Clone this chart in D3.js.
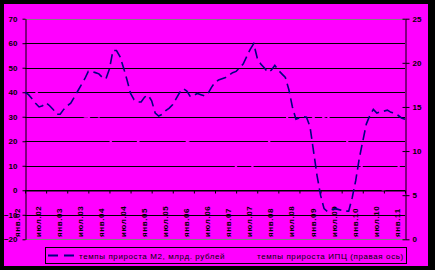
<!DOCTYPE html>
<html>
<head>
<meta charset="utf-8">
<script src="https://cdn.jsdelivr.net/npm/d3@7"></script>
<style>
    body { margin: 0; background: #000; }
    #chart-area { width: 435px; height: 270px; }
    text { font-family: "Liberation Sans", Arial, sans-serif; font-size: 8px; font-weight: bold;
           fill: #000; }
    .x-labels text { letter-spacing: 0.6px; }
    .legend text { font-weight: normal; letter-spacing: 0.6px; }
</style>
</head>
<body>
<div id="chart-area"></div>
<script>

// tick labels on the time axis (every 6 months)
const tickLabels = ["янв.02", "июл.02", "янв.03", "июл.03", "янв.04", "июл.04", "янв.05", "июл.05",
    "янв.06", "июл.06", "янв.07", "июл.07", "янв.08", "июл.08", "янв.09", "июл.09", "янв.10", "июл.10", "янв.11"];

// M2 growth, % y/y, monthly Jan 2002 .. Jan 2011 (left axis)
const m2Growth = [
    40, 39, 37.3, 35.5, 34, 34.5, 35.7, 34.5, 33, 31, 31, 33,
    34.5, 35.5, 38, 40.5, 43, 45.5, 48.5, 48.5, 48, 47.5, 46, 45.5,
    49.5, 57, 57, 54.5, 50, 45, 39.5, 37, 36, 36, 38, 38.8,
    36.5, 31.5, 30.3, 31, 32.5, 33.5, 35, 37.5, 40, 41.5, 40.5, 38.2,
    38.8, 39.5, 39, 38.5, 39.5, 42, 44, 45, 45.5, 46, 47, 48,
    48.5, 50, 51.5, 54.5, 57.5, 59.8, 54, 51.5, 50, 48.2, 49, 51,
    49, 47.5, 46, 41, 34, 29, 29.5, 30, 29.8, 26, 16, 6,
    -2, -7.5, -8.7, -8, -7.5, -7.8, -8.2, -8.5, -8.5, -3, 4, 13,
    20, 27, 30.5, 33, 31.5, 32, 32.3, 32.7, 31.8, 31.5, 30.6, 29.5,
    29
];

// CPI growth, % y/y (right axis) - drawn in the background colour, as in the original
const cpiGrowth = [
    19.0, 17.9, 17.3, 16.8, 16.3, 15.6, 15.2, 15.2, 15.2, 15.0, 15.2, 15.1,
    14.3, 14.7, 14.7, 14.2, 14.1, 13.9, 13.9, 13.3, 13.5, 13.7, 13.0, 12.0,
    11.3, 10.7, 10.4, 10.2, 10.2, 10.3, 10.4, 10.6, 11.0, 11.5, 11.7, 11.7,
    12.7, 12.8, 13.0, 13.0, 13.3, 13.4, 12.8, 12.5, 12.2, 11.7, 11.1, 10.9,
    10.7, 10.9, 10.7, 9.8, 9.5, 9.2, 9.3, 9.6, 9.6, 9.3, 9.0, 9.0,
    8.2, 7.8, 7.4, 7.6, 7.8, 8.5, 8.7, 8.6, 9.4, 10.8, 11.5, 11.9,
    12.6, 12.7, 13.3, 14.3, 15.1, 15.1, 14.7, 15.0, 15.0, 14.2, 13.8, 13.3,
    13.4, 13.9, 14.0, 13.2, 12.3, 11.9, 12.0, 11.6, 10.7, 9.7, 9.1, 8.8,
    8.0, 7.2, 6.5, 6.0, 6.0, 5.8, 5.5, 6.1, 7.0, 7.5, 8.1, 8.8,
    9.6
];

const leftTicks = [-20, -10, 0, 10, 20, 30, 40, 50, 60, 70];
const rightTicks = [0, 5, 10, 15, 20, 25];
const legendLabels = ["темпы прироста М2, млрд. рублей", "темпы прироста ИПЦ (правая ось)"];

class GrowthVis {

    constructor(parentElement) {
        this.parentElement = parentElement;
        this.bg = "#ff00ff";
        this.lineColor = "#000080";
        this.initVis();
    }

    initVis() {
        let vis = this;

        vis.width = 435;
        vis.height = 270;

        vis.svg = d3.select("#" + vis.parentElement).append("svg")
            .attr("width", vis.width)
            .attr("height", vis.height);

        // black frame + magenta chart area
        vis.svg.append("rect").attr("width", vis.width).attr("height", vis.height).attr("fill", "#000");
        vis.svg.append("rect").attr("x", 4).attr("y", 4).attr("width", 424).attr("height", 262).attr("fill", vis.bg);

        // Scales
        vis.x = d3.scaleLinear().domain([0, m2Growth.length - 1]).range([25, 405]);
        vis.yLeft = d3.scaleLinear().domain([-20, 70]).range([239.3, 18.7]);
        vis.yRight = d3.scaleLinear().domain([0, 25]).range([239.3, 18.7]);

        // Gridlines
        vis.svg.append("g").attr("class", "grid")
            .selectAll("line")
            .data(leftTicks)
            .enter().append("line")
            .attr("x1", vis.x.range()[0])
            .attr("x2", vis.x.range()[1])
            .attr("y1", d => Math.round(vis.yLeft(d)) + 0.5)
            .attr("y2", d => Math.round(vis.yLeft(d)) + 0.5)
            .attr("stroke", d => (d === 70 || d === -20) ? "#808080" : "#000")
            .attr("stroke-width", 1);

        // CPI line (same colour as background)
        vis.svg.append("path")
            .datum(cpiGrowth)
            .attr("fill", "none")
            .attr("stroke", vis.bg)
            .attr("stroke-width", 2)
            .attr("d", d3.line().x((d, i) => vis.x(i)).y(d => vis.yRight(d)));

        // Time axis at zero
        vis.xAxis = d3.axisBottom(vis.x)
            .tickValues(d3.range(0, m2Growth.length, 6))
            .tickSize(3)
            .tickSizeOuter(0)
            .tickFormat("");
        vis.svg.append("g")
            .attr("class", "axis x-axis")
            .attr("transform", `translate(0, ${Math.round(vis.yLeft(0)) + 0.5})`)
            .call(vis.xAxis);

        // Left axis
        vis.svg.append("g")
            .attr("class", "axis y-axis")
            .attr("transform", `translate(${vis.x.range()[0] + 0.5}, 0)`)
            .call(d3.axisLeft(vis.yLeft).tickValues(leftTicks).tickSize(3).tickSizeOuter(0).tickPadding(5));

        // Right axis (cross ticks)
        vis.rightAxis = vis.svg.append("g")
            .attr("class", "axis y-axis-right")
            .attr("transform", `translate(${vis.x.range()[1] + 0.5}, 0)`)
            .call(d3.axisRight(vis.yRight).tickValues(rightTicks).tickSize(4).tickSizeOuter(0).tickPadding(3));
        vis.rightAxis.selectAll(".tick").append("line")
            .attr("x2", -3).attr("stroke", "#000");

        vis.svg.selectAll(".axis path, .axis line").attr("stroke", "#000");
        vis.svg.selectAll(".axis text").attr("font-size", null).attr("font-family", null).attr("fill", null);

        // Time labels, rotated
        vis.svg.append("g").attr("class", "x-labels")
            .selectAll("text")
            .data(tickLabels)
            .enter().append("text")
            .attr("transform", (d, i) => `translate(${vis.x(i * 6) - 5}, 237) rotate(-90)`)
            .text(d => d);

        // M2 line
        vis.svg.append("path")
            .datum(m2Growth)
            .attr("fill", "none")
            .attr("stroke", vis.lineColor)
            .attr("stroke-width", 1.6)
            .attr("stroke-dasharray", "10,5")
            .attr("d", d3.line().x((d, i) => vis.x(i)).y(d => vis.yLeft(d)));

        // Legend
        vis.legend = vis.svg.append("g").attr("class", "legend");
        vis.legend.append("rect")
            .attr("x", 45.5).attr("y", 247.5).attr("width", 361).attr("height", 16)
            .attr("fill", "none").attr("stroke", "#000");

        let items = [{x: 48, color: vis.lineColor, tx: 79}, {x: 226, color: vis.bg, tx: 257}];
        vis.legend.selectAll(".swatch")
            .data(items)
            .enter().append("line")
            .attr("class", "swatch")
            .attr("x1", d => d.x).attr("x2", d => d.x + 26)
            .attr("y1", 255.5).attr("y2", 255.5)
            .attr("stroke", d => d.color)
            .attr("stroke-width", 2)
            .attr("stroke-dasharray", "10,6");
        vis.legend.selectAll(".label")
            .data(items)
            .enter().append("text")
            .attr("class", "label")
            .attr("x", d => d.tx).attr("y", 258.5)
            .text((d, i) => legendLabels[i]);
    }
}

new GrowthVis("chart-area");
</script>
</body>
</html>
